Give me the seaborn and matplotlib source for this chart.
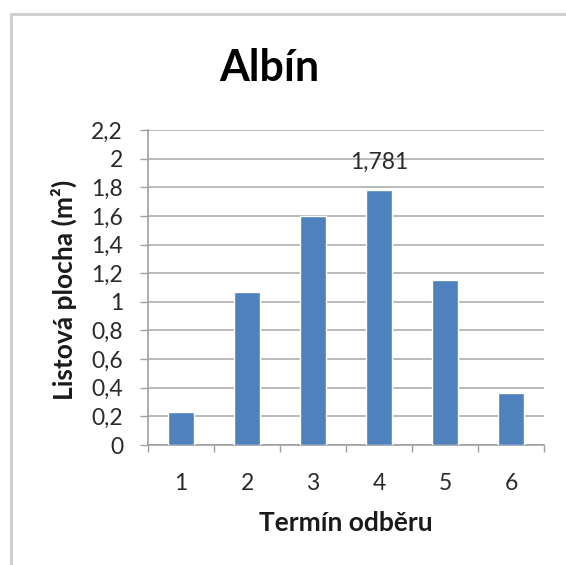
import matplotlib
matplotlib.use("Agg")
import matplotlib.pyplot as plt
import matplotlib.ticker as mticker
from matplotlib.patches import Rectangle
import pandas as pd
import seaborn as sns

# Leaf area per sampling date
terms = ["1", "2", "3", "4", "5", "6"]
leaf_area = [0.233, 1.072, 1.600, 1.781, 1.149, 0.366]
yticks = [0, 0.2, 0.4, 0.6, 0.8, 1.0, 1.2, 1.4, 1.6, 1.8, 2.0, 2.2]

title = "Albín"
xlabel = "Termín odběru"
ylabel = "Listová plocha (m²)"

sns.set_theme(style="white")
plt.rcParams["font.family"] = ["Lato", "DejaVu Sans"]

df = pd.DataFrame({"term": terms, "area": leaf_area})

fig = plt.figure(figsize=(5.66, 5.65), dpi=100)
ax = fig.add_axes([148 / 566, 1 - 445 / 565, 396 / 566, 315 / 565])

sns.barplot(data=df, x="term", y="area", color="#4F81BD", saturation=1,
            width=0.4, ax=ax, zorder=3)

ax.set_ylim(0, 2.2)
ax.set_xlim(-0.5, len(terms) - 0.5)
ax.set_yticks(yticks)
ax.yaxis.set_major_formatter(
    mticker.FuncFormatter(lambda v, _: f"{v:.1f}".rstrip("0").rstrip(".").replace(".", ",")))
ax.grid(axis="y", color="#B4B4B4", linewidth=1.3, zorder=0)
ax.set_axisbelow(True)

tick_fs = 16.5
text_col = "#2a2a2a"
# category boundary ticks on the x axis
ax.set_xticks([i - 0.5 for i in range(len(terms) + 1)], minor=True)
ax.tick_params(axis="x", which="major", length=0, pad=20, labelsize=tick_fs, colors=text_col)
ax.tick_params(axis="x", which="minor", length=5, width=1, color="#A0A0A0", direction="out",
               bottom=True)
ax.tick_params(axis="y", which="major", length=6, width=1, color="#A0A0A0", direction="out",
               left=True, pad=12, labelsize=tick_fs, colors=text_col)

for side in ["top", "right"]:
    ax.spines[side].set_visible(False)
for side in ["left", "bottom"]:
    ax.spines[side].set_color("#A0A0A0")
    ax.spines[side].set_linewidth(1.2)

ax.set_xlabel(xlabel, fontsize=19, fontweight="bold", color="#1a1a1a")
ax.set_ylabel(ylabel, fontsize=19, fontweight="bold", color="#1a1a1a")
ax.xaxis.set_label_coords(0.5, (445 - 523) / 315)
ax.xaxis.label.set_va("center")
ax.yaxis.set_label_coords((64 - 148) / 396, (445 - 290) / 315)
ax.yaxis.label.set_va("center")

# value label above the highest bar
ax.text(3, leaf_area[3] + 0.19, f"{leaf_area[3]:.3f}".replace(".", ","),
        ha="center", va="center", fontsize=tick_fs, color=text_col)

fig.text(269 / 566, 1 - 68 / 565, title, ha="center", va="center",
         fontsize=31, fontweight="bold", color="black")

# chart frame
fig.patches.append(Rectangle((10.5 / 566, -0.1), 1.2, 1 - 13.5 / 565 + 0.1,
                             transform=fig.transFigure, fill=False,
                             edgecolor="#D0D0D0", linewidth=2.2))

fig.savefig("out.png", dpi=100)
